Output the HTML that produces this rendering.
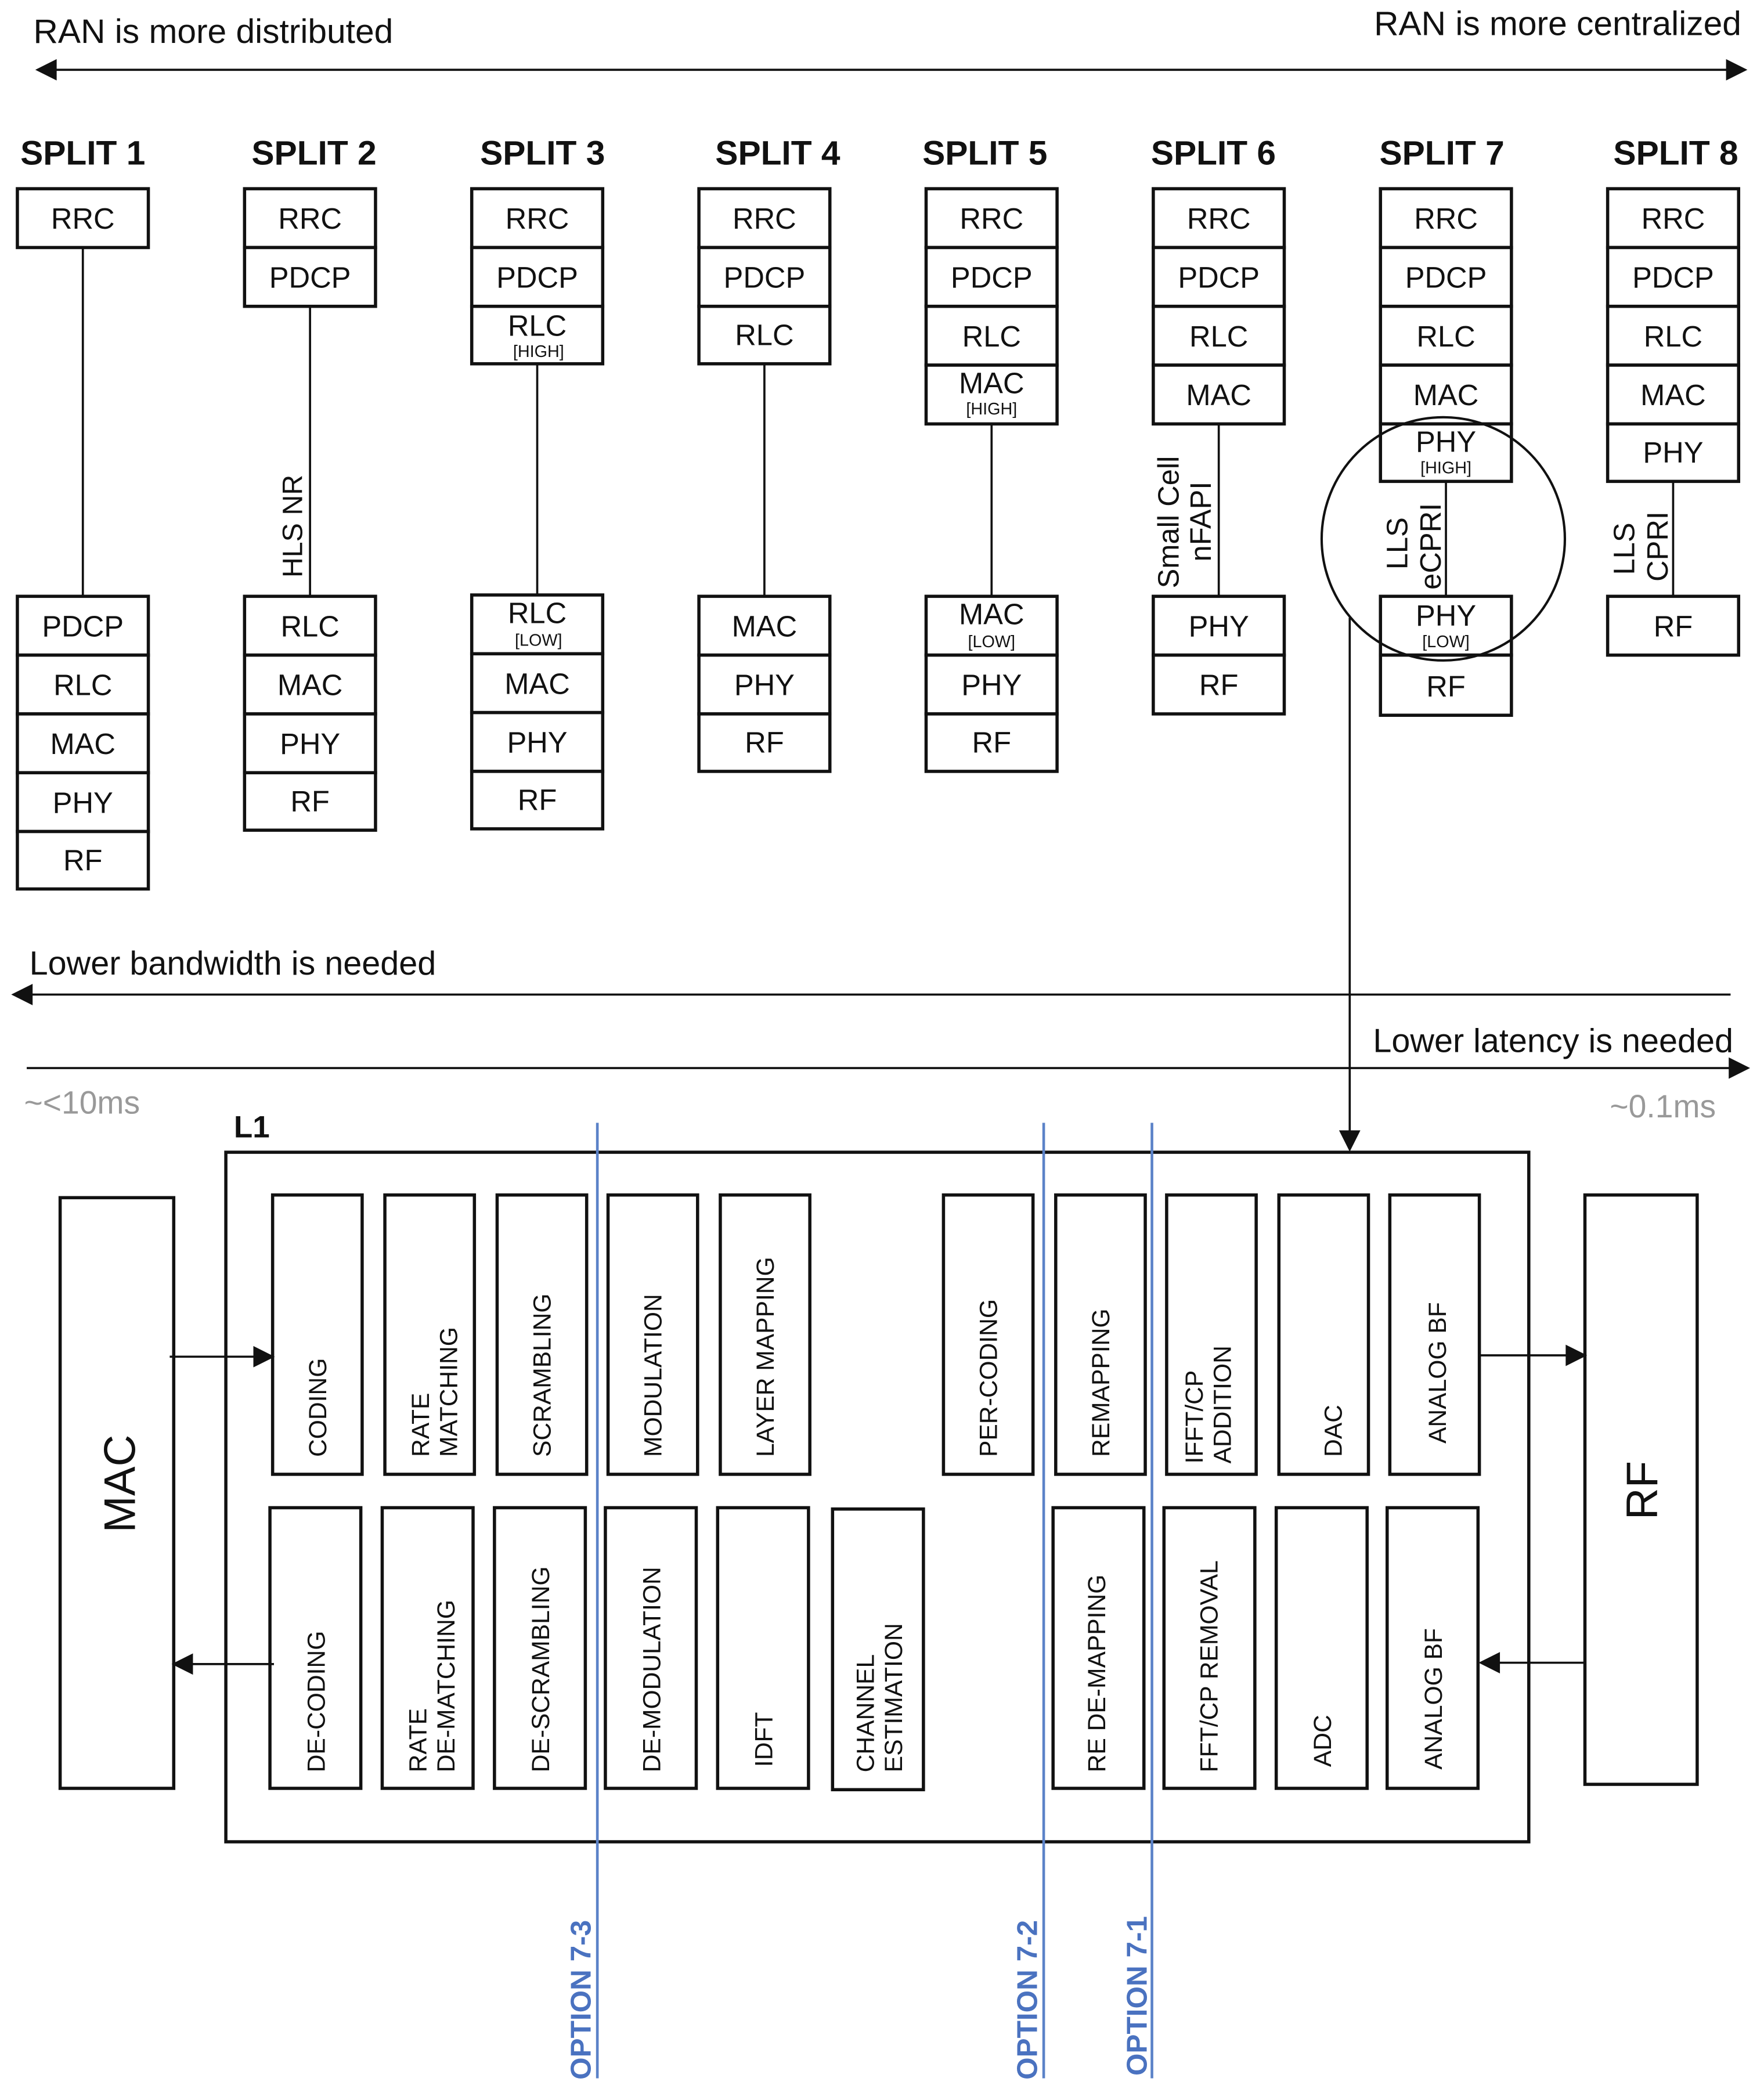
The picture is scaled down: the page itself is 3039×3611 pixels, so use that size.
<!DOCTYPE html>
<html><head><meta charset="utf-8"><style>
html,body{margin:0;padding:0;background:#fff}
svg{display:block}
text{font-family:"Liberation Sans",sans-serif;fill:#111}
.b{fill:#fff;stroke:#111;stroke-width:2.4}
.l{stroke:#111;stroke-width:1.6;fill:none}
.t{font-size:22px;text-anchor:middle}
.s{font-size:12.5px;text-anchor:middle}
.h{font-size:25.5px;font-weight:bold;text-anchor:middle}
.v{font-size:18.5px}
.o{font-size:21.5px;font-weight:bold;fill:#4a72c0}
.bl{stroke:#5b82c8;stroke-width:2}
</style></head><body>
<svg width="3039" height="3611" viewBox="0 0 1320 1568" xmlns="http://www.w3.org/2000/svg">
<defs>
<marker id="A" viewBox="0 0 10 10" refX="9" refY="5" markerWidth="18" markerHeight="16" orient="auto-start-reverse" markerUnits="userSpaceOnUse"><path d="M0,0 L10,5 L0,10 z" fill="#111"/></marker>
</defs>
<text x="25" y="32" style="font-size:25.5px">RAN is more distributed</text>
<text x="1303" y="26" style="font-size:25.5px;text-anchor:end">RAN is more centralized</text>
<line x1="28" y1="52" x2="1306" y2="52" class="l" stroke-width="2" marker-start="url(#A)" marker-end="url(#A)"/>

<text x="62" y="123" class="h">SPLIT 1</text>
<text x="235" y="123" class="h">SPLIT 2</text>
<text x="406" y="123" class="h">SPLIT 3</text>
<text x="582" y="123" class="h">SPLIT 4</text>
<text x="737" y="123" class="h">SPLIT 5</text>
<text x="908" y="123" class="h">SPLIT 6</text>
<text x="1079" y="123" class="h">SPLIT 7</text>
<text x="1254" y="123" class="h">SPLIT 8</text>

<line x1="62" y1="185" x2="62" y2="446" class="l"/>
<line x1="232" y1="229" x2="232" y2="446" class="l"/>
<line x1="402" y1="273" x2="402" y2="445" class="l"/>
<line x1="572" y1="273" x2="572" y2="446" class="l"/>
<line x1="742" y1="317" x2="742" y2="446" class="l"/>
<line x1="912" y1="317" x2="912" y2="446" class="l"/>
<line x1="1082" y1="360" x2="1082" y2="446" class="l"/>
<line x1="1252" y1="360" x2="1252" y2="446" class="l"/>

<rect x="13" y="141" width="98" height="44" class="b"/><text x="62" y="171" class="t">RRC</text>
<rect x="13" y="446" width="98" height="44" class="b"/><text x="62" y="476" class="t">PDCP</text>
<rect x="13" y="490" width="98" height="44" class="b"/><text x="62" y="520" class="t">RLC</text>
<rect x="13" y="534" width="98" height="44" class="b"/><text x="62" y="564" class="t">MAC</text>
<rect x="13" y="578" width="98" height="44" class="b"/><text x="62" y="608" class="t">PHY</text>
<rect x="13" y="622" width="98" height="43" class="b"/><text x="62" y="651" class="t">RF</text>

<rect x="183" y="141" width="98" height="44" class="b"/><text x="232" y="171" class="t">RRC</text>
<rect x="183" y="185" width="98" height="44" class="b"/><text x="232" y="215" class="t">PDCP</text>
<text transform="translate(226,432) rotate(-90)" style="font-size:21px">HLS NR</text>
<rect x="183" y="446" width="98" height="44" class="b"/><text x="232" y="476" class="t">RLC</text>
<rect x="183" y="490" width="98" height="44" class="b"/><text x="232" y="520" class="t">MAC</text>
<rect x="183" y="534" width="98" height="44" class="b"/><text x="232" y="564" class="t">PHY</text>
<rect x="183" y="578" width="98" height="43" class="b"/><text x="232" y="607" class="t">RF</text>

<rect x="353" y="141" width="98" height="44" class="b"/><text x="402" y="171" class="t">RRC</text>
<rect x="353" y="185" width="98" height="44" class="b"/><text x="402" y="215" class="t">PDCP</text>
<rect x="353" y="229" width="98" height="43" class="b"/><text x="402" y="251" class="t">RLC</text><text x="403" y="267" class="s">[HIGH]</text>
<rect x="353" y="445" width="98" height="44" class="b"/><text x="402" y="466" class="t">RLC</text><text x="403" y="483" class="s">[LOW]</text>
<rect x="353" y="489" width="98" height="44" class="b"/><text x="402" y="519" class="t">MAC</text>
<rect x="353" y="533" width="98" height="44" class="b"/><text x="402" y="563" class="t">PHY</text>
<rect x="353" y="577" width="98" height="43" class="b"/><text x="402" y="606" class="t">RF</text>

<rect x="523" y="141" width="98" height="44" class="b"/><text x="572" y="171" class="t">RRC</text>
<rect x="523" y="185" width="98" height="44" class="b"/><text x="572" y="215" class="t">PDCP</text>
<rect x="523" y="229" width="98" height="43" class="b"/><text x="572" y="258" class="t">RLC</text>
<rect x="523" y="446" width="98" height="44" class="b"/><text x="572" y="476" class="t">MAC</text>
<rect x="523" y="490" width="98" height="44" class="b"/><text x="572" y="520" class="t">PHY</text>
<rect x="523" y="534" width="98" height="43" class="b"/><text x="572" y="563" class="t">RF</text>

<rect x="693" y="141" width="98" height="44" class="b"/><text x="742" y="171" class="t">RRC</text>
<rect x="693" y="185" width="98" height="44" class="b"/><text x="742" y="215" class="t">PDCP</text>
<rect x="693" y="229" width="98" height="44" class="b"/><text x="742" y="259" class="t">RLC</text>
<rect x="693" y="273" width="98" height="44" class="b"/><text x="742" y="294" class="t">MAC</text><text x="742" y="310" class="s">[HIGH]</text>
<rect x="693" y="446" width="98" height="44" class="b"/><text x="742" y="467" class="t">MAC</text><text x="742" y="484" class="s">[LOW]</text>
<rect x="693" y="490" width="98" height="44" class="b"/><text x="742" y="520" class="t">PHY</text>
<rect x="693" y="534" width="98" height="43" class="b"/><text x="742" y="563" class="t">RF</text>

<rect x="863" y="141" width="98" height="44" class="b"/><text x="912" y="171" class="t">RRC</text>
<rect x="863" y="185" width="98" height="44" class="b"/><text x="912" y="215" class="t">PDCP</text>
<rect x="863" y="229" width="98" height="44" class="b"/><text x="912" y="259" class="t">RLC</text>
<rect x="863" y="273" width="98" height="44" class="b"/><text x="912" y="303" class="t">MAC</text>
<text transform="translate(882,440) rotate(-90)" style="font-size:22px">Small Cell</text>
<text transform="translate(906,420) rotate(-90)" style="font-size:22px">nFAPI</text>
<rect x="863" y="446" width="98" height="44" class="b"/><text x="912" y="476" class="t">PHY</text>
<rect x="863" y="490" width="98" height="44" class="b"/><text x="912" y="520" class="t">RF</text>

<rect x="1033" y="141" width="98" height="44" class="b"/><text x="1082" y="171" class="t">RRC</text>
<rect x="1033" y="185" width="98" height="44" class="b"/><text x="1082" y="215" class="t">PDCP</text>
<rect x="1033" y="229" width="98" height="44" class="b"/><text x="1082" y="259" class="t">RLC</text>
<rect x="1033" y="273" width="98" height="44" class="b"/><text x="1082" y="303" class="t">MAC</text>
<rect x="1033" y="317" width="98" height="43" class="b"/><text x="1082" y="338" class="t">PHY</text><text x="1082" y="354" class="s">[HIGH]</text>
<rect x="1033" y="446" width="98" height="44" class="b"/><text x="1082" y="468" class="t">PHY</text><text x="1082" y="484" class="s">[LOW]</text>
<rect x="1033" y="490" width="98" height="45" class="b"/><text x="1082" y="521" class="t">RF</text>
<text transform="translate(1053,426) rotate(-90)" style="font-size:22px">LLS</text>
<text transform="translate(1078,441) rotate(-90)" style="font-size:22px">eCPRI</text>
<circle cx="1080" cy="403" r="91" fill="none" stroke="#111" stroke-width="1.8"/>

<rect x="1203" y="141" width="98" height="44" class="b"/><text x="1252" y="171" class="t">RRC</text>
<rect x="1203" y="185" width="98" height="44" class="b"/><text x="1252" y="215" class="t">PDCP</text>
<rect x="1203" y="229" width="98" height="44" class="b"/><text x="1252" y="259" class="t">RLC</text>
<rect x="1203" y="273" width="98" height="44" class="b"/><text x="1252" y="303" class="t">MAC</text>
<rect x="1203" y="317" width="98" height="43" class="b"/><text x="1252" y="346" class="t">PHY</text>
<text transform="translate(1223,430) rotate(-90)" style="font-size:22px">LLS</text>
<text transform="translate(1248,435) rotate(-90)" style="font-size:22px">CPRI</text>
<rect x="1203" y="446" width="98" height="44" class="b"/><text x="1252" y="476" class="t">RF</text>

<line x1="1010" y1="462" x2="1010" y2="860" class="l" marker-end="url(#A)"/>

<text x="22" y="729" style="font-size:25px">Lower bandwidth is needed</text>
<line x1="1295" y1="744" x2="10" y2="744" class="l" stroke-width="2" marker-end="url(#A)"/>
<text x="1297" y="787" style="font-size:25px;text-anchor:end">Lower latency is needed</text>
<line x1="20" y1="799" x2="1308" y2="799" class="l" stroke-width="2" marker-end="url(#A)"/>
<text x="18" y="833" style="font-size:24px;fill:#999">~&lt;10ms</text>
<text x="1284" y="836" style="font-size:24px;fill:#999;text-anchor:end">~0.1ms</text>
<text x="175" y="851" style="font-size:23px;font-weight:bold">L1</text>

<rect x="169" y="862" width="975" height="516" class="b" stroke-width="2"/>
<rect x="45" y="896" width="85" height="442" class="b" stroke-width="2"/>
<text transform="translate(101,1110) rotate(-90)" style="font-size:33px;text-anchor:middle">MAC</text>
<rect x="1186" y="894" width="84" height="441" class="b" stroke-width="2"/>
<text transform="translate(1240,1115) rotate(-90)" style="font-size:33px;text-anchor:middle">RF</text>

<g>
<rect x="204" y="894" width="67" height="209" class="b" stroke-width="2"/><text class="v" transform="translate(244,1090) rotate(-90)">CODING</text>
<rect x="288" y="894" width="67" height="209" class="b" stroke-width="2"/><text class="v" transform="translate(321,1090) rotate(-90)">RATE</text><text class="v" transform="translate(342,1090) rotate(-90)">MATCHING</text>
<rect x="372" y="894" width="67" height="209" class="b" stroke-width="2"/><text class="v" transform="translate(412,1090) rotate(-90)">SCRAMBLING</text>
<rect x="455" y="894" width="67" height="209" class="b" stroke-width="2"/><text class="v" transform="translate(495,1090) rotate(-90)">MODULATION</text>
<rect x="539" y="894" width="67" height="209" class="b" stroke-width="2"/><text class="v" transform="translate(579,1090) rotate(-90)">LAYER MAPPING</text>
<rect x="706" y="894" width="67" height="209" class="b" stroke-width="2"/><text class="v" transform="translate(746,1090) rotate(-90)">PER-CODING</text>
<rect x="790" y="894" width="67" height="209" class="b" stroke-width="2"/><text class="v" transform="translate(830,1090) rotate(-90)">REMAPPING</text>
<rect x="873" y="894" width="67" height="209" class="b" stroke-width="2"/><text class="v" transform="translate(900,1095) rotate(-90)">IFFT/CP</text><text class="v" transform="translate(921,1095) rotate(-90)">ADDITION</text>
<rect x="957" y="894" width="67" height="209" class="b" stroke-width="2"/><text class="v" transform="translate(1004,1090) rotate(-90)">DAC</text>
<rect x="1040" y="894" width="67" height="209" class="b" stroke-width="2"/><text class="v" transform="translate(1082,1080) rotate(-90)">ANALOG BF</text>
</g>
<g>
<rect x="202" y="1128" width="68" height="210" class="b" stroke-width="2"/><text class="v" transform="translate(243,1326) rotate(-90)">DE-CODING</text>
<rect x="286" y="1128" width="68" height="210" class="b" stroke-width="2"/><text class="v" transform="translate(319,1326) rotate(-90)">RATE</text><text class="v" transform="translate(340,1326) rotate(-90)">DE-MATCHING</text>
<rect x="370" y="1128" width="68" height="210" class="b" stroke-width="2"/><text class="v" transform="translate(411,1326) rotate(-90)">DE-SCRAMBLING</text>
<rect x="453" y="1128" width="68" height="210" class="b" stroke-width="2"/><text class="v" transform="translate(494,1326) rotate(-90)">DE-MODULATION</text>
<rect x="537" y="1128" width="68" height="210" class="b" stroke-width="2"/><text class="v" transform="translate(578,1322) rotate(-90)">IDFT</text>
<rect x="623" y="1129" width="68" height="210" class="b" stroke-width="2"/><text class="v" transform="translate(654,1326) rotate(-90)">CHANNEL</text><text class="v" transform="translate(675,1326) rotate(-90)">ESTIMATION</text>
<rect x="788" y="1128" width="68" height="210" class="b" stroke-width="2"/><text class="v" transform="translate(827,1326) rotate(-90)">RE DE-MAPPING</text>
<rect x="871" y="1128" width="68" height="210" class="b" stroke-width="2"/><text class="v" transform="translate(911,1326) rotate(-90)">FFT/CP REMOVAL</text>
<rect x="955" y="1128" width="68" height="210" class="b" stroke-width="2"/><text class="v" transform="translate(996,1322) rotate(-90)">ADC</text>
<rect x="1038" y="1128" width="68" height="210" class="b" stroke-width="2"/><text class="v" transform="translate(1079,1324) rotate(-90)">ANALOG BF</text>
</g>

<line x1="127" y1="1015" x2="204" y2="1015" class="l" marker-end="url(#A)"/>
<line x1="205" y1="1245" x2="130" y2="1245" class="l" marker-end="url(#A)"/>
<line x1="1108" y1="1014" x2="1186" y2="1014" class="l" marker-end="url(#A)"/>
<line x1="1186" y1="1244" x2="1108" y2="1244" class="l" marker-end="url(#A)"/>

<line x1="447" y1="840" x2="447" y2="1555" class="bl"/>
<line x1="781" y1="840" x2="781" y2="1555" class="bl"/>
<line x1="862" y1="840" x2="862" y2="1555" class="bl"/>
<text class="o" transform="translate(442,1556) rotate(-90)">OPTION 7-3</text>
<text class="o" transform="translate(776,1556) rotate(-90)">OPTION 7-2</text>
<text class="o" transform="translate(858,1553) rotate(-90)">OPTION 7-1</text>
</svg>
</body></html>
